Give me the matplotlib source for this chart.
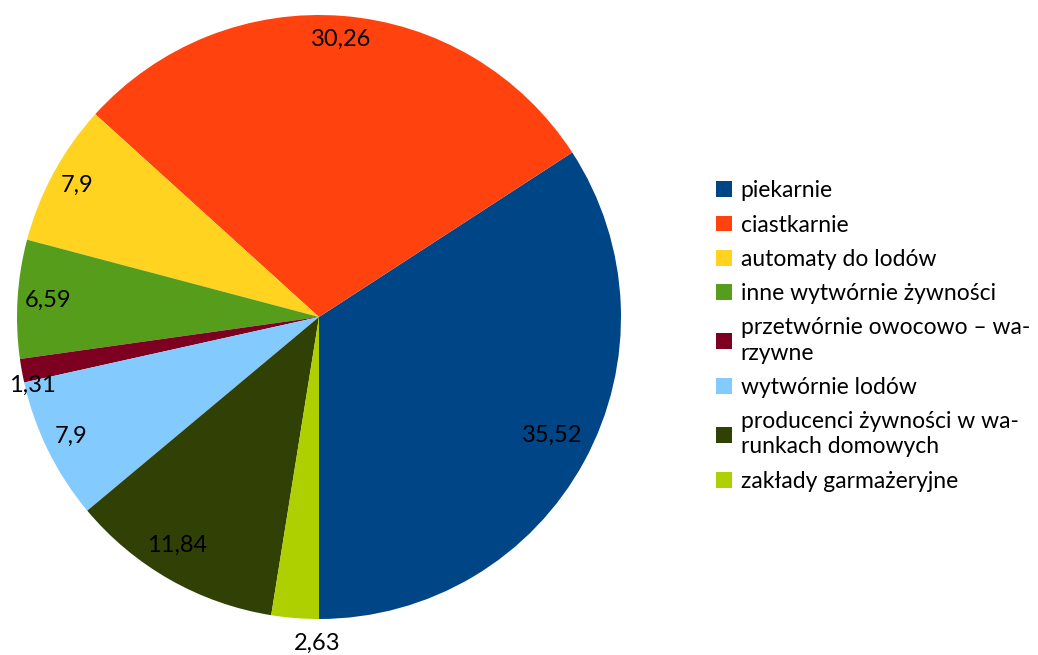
import numpy as np
import matplotlib
matplotlib.use("Agg")
from matplotlib import pyplot as plt
from matplotlib.patches import Patch

plt.rcParams['font.family'] = ['Lato', 'DejaVu Sans']

categories = ['piekarnie', 'ciastkarnie', 'automaty do lodów', 'inne wytwórnie żywności',
              'przetwórnie owocowo – wa-\nrzywne', 'wytwórnie lodów',
              'producenci żywności w wa-\nrunkach domowych', 'zakłady garmażeryjne']
values = [35.52, 30.26, 7.9, 6.59, 1.31, 7.9, 11.84, 2.63]
colors = ['#004586', '#ff420e', '#ffd320', '#579d1c', '#7e0021', '#83caff', '#314004', '#aecf00']

# label placement per slice: distance from centre (fraction of radius), angle nudge (deg)
label_r = [0.867, 0.924, 0.91, 0.90, 0.975, 0.91, 0.89, 1.08]
label_da = [1.6, 0, 0, 0, 3.1, -0.4, -2.3, 4.3]

fig = plt.figure(figsize=(10.38, 6.55), dpi=100)
W, H = 1038, 655
cx, cy, R = 319, 317, 302
ax = fig.add_axes([(cx - R) / W, (H - cy - R) / H, 2 * R / W, 2 * R / H])

wedges, _ = ax.pie(values, colors=colors, startangle=-90, counterclock=True,
                   wedgeprops=dict(linewidth=0))
ax.set_xlim(-1, 1)
ax.set_ylim(-1, 1)
ax.set_aspect('equal')
for w in wedges:
    w.set_clip_on(False)

for w, v, r, da in zip(wedges, values, label_r, label_da):
    a = np.deg2rad((w.theta1 + w.theta2) / 2 + da)
    ax.text(r * np.cos(a), r * np.sin(a), str(v).replace('.', ','),
            ha='center', va='center', fontsize=17, color='black')

handles = [Patch(facecolor=c, edgecolor='none') for c in colors]
leg = fig.legend(handles, categories, loc='center left', bbox_to_anchor=(716 / W, 1 - 336 / H),
                 frameon=False, fontsize=16.5, handlelength=0.68, handleheight=0.68,
                 handletextpad=0.4, labelspacing=0.58, borderaxespad=0, borderpad=0)
for t in leg.get_texts():
    t.set_linespacing(1.25)

fig.savefig('out.png', dpi=100)
